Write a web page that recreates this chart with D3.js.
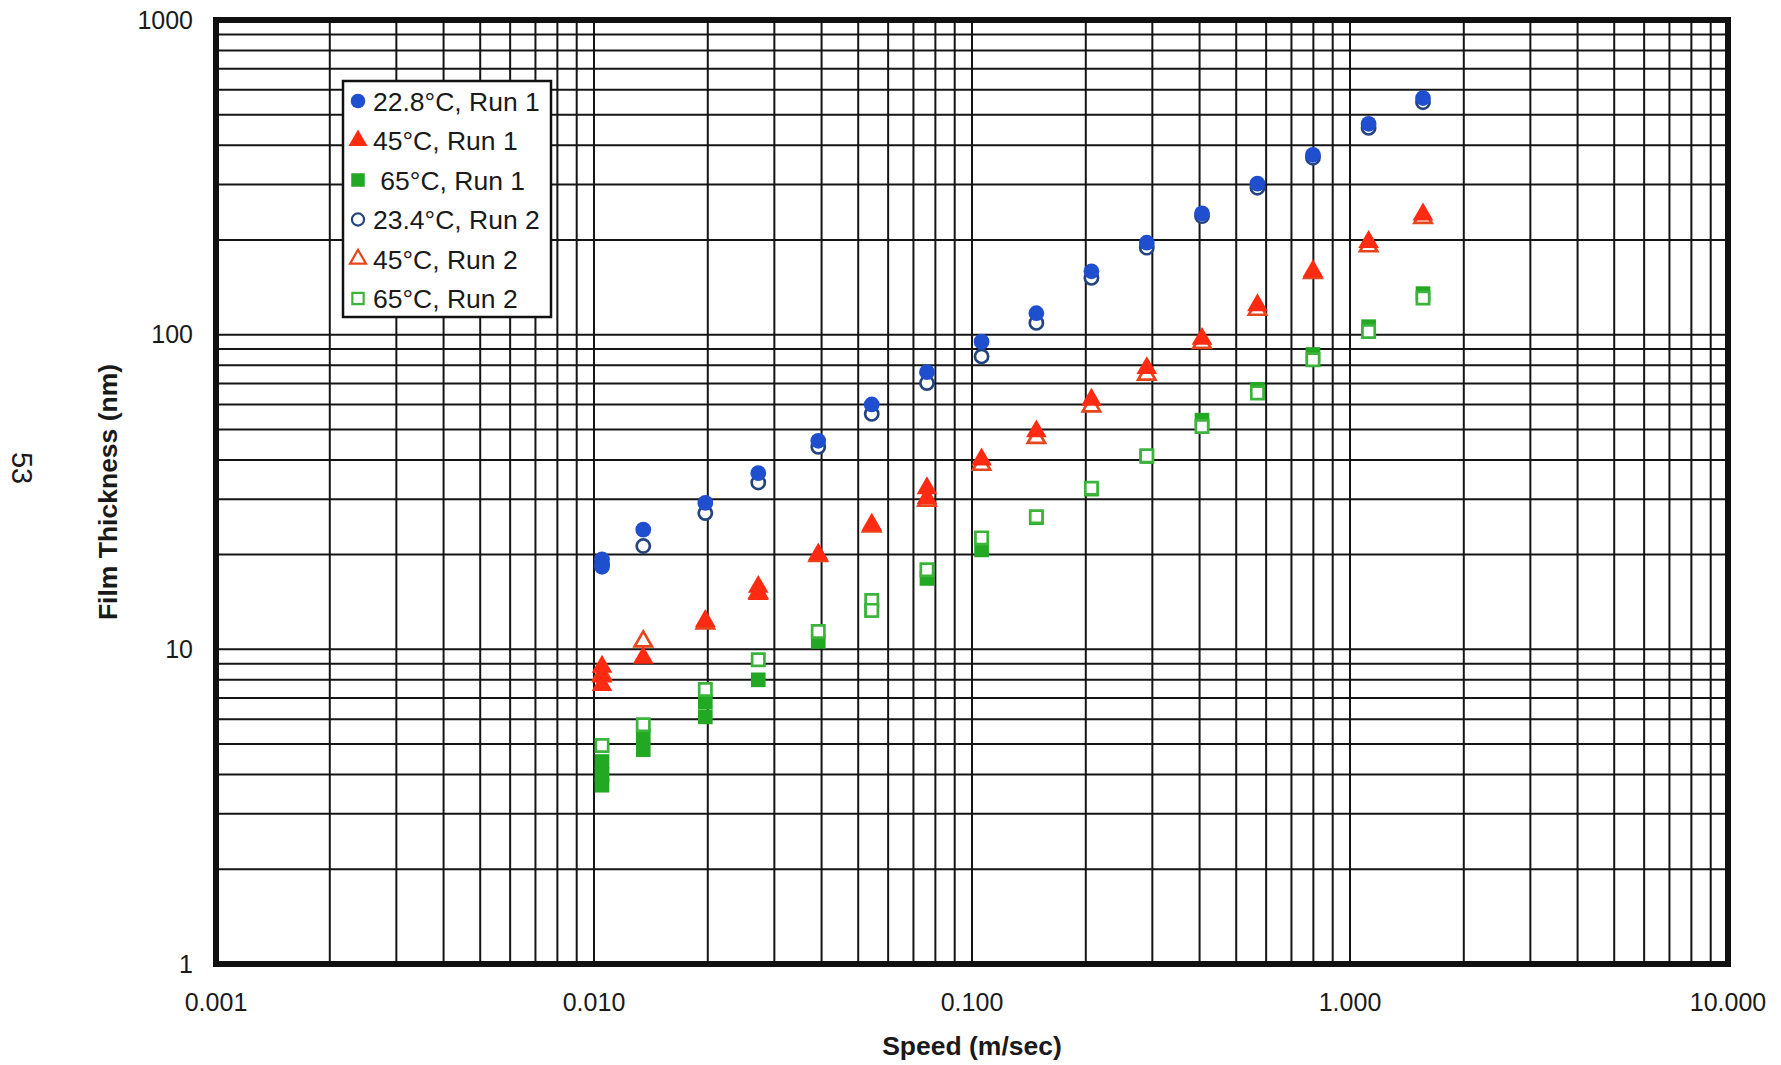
<!DOCTYPE html>
<html>
<head>
<meta charset="utf-8">
<script src="https://cdn.jsdelivr.net/npm/d3@7"></script>
<style>
  body { margin: 0; background: #fff; }
  svg text { font-family: "Liberation Sans", Arial, sans-serif; fill: #1a1a1a; }
</style>
</head>
<body>
<svg id="chart" width="1781" height="1065"></svg>
<script>
// speeds (m/sec), one column of markers each
const speeds = [0.0105, 0.0135, 0.0197, 0.0272, 0.0392, 0.0543, 0.0760, 0.106, 0.148, 0.207, 0.290, 0.406, 0.569, 0.798, 1.12, 1.56]

// film thickness (nm) per speed, repeats kept as extra values
const blue1 = [[19.3, 18.3], [24.0], [29.2], [36.3], [46], [60], [76], [95], [117], [159], [196], [243], [302], [373], [468], [565]]
const blue2 = [[18.6], [21.3], [27.1], [33.9], [44], [56], [70.2], [85.3], [109], [151.5], [189], [238], [293], [365], [454], [548]]
const red1 = [[8.8, 8.2, 7.7], [9.4], [12.3], [15.8, 15.0], [20.0], [24.9], [32.5, 30.2], [40.1], [49.3], [62.1], [78.3], [97], [124], [159], [197], [241]]
const red2 = [[8.3], [10.6], [12.1], [15.1], [19.8], [24.6], [29.7], [38.6], [47.0], [59.2], [74.6], [94.2], [120], [157], [191], [235]]
const green1 = [[4.4, 4.0, 3.7], [5.3, 4.8], [6.8, 6.1], [8.0], [10.6], [13.3], [16.8], [20.7], [26.2], [32.3], [41.0], [53.5], [67], [86.5], [106], [135]]
const green2 = [[4.95], [5.76], [7.45], [9.27], [11.4], [14.3, 13.3], [17.9], [22.6], [26.4], [32.5], [41.2], [51.1], [65.3], [83.2], [102.4], [130.8]]

const xTicks = [0.001, 0.01, 0.1, 1, 10]
const yTicks = [1, 10, 100, 1000]

const series = [
  {name: "22.8°C, Run 1", values: blue1, shape: "circle", fill: "#1f4fcf", stroke: "none"},
  {name: "45°C, Run 1", values: red1, shape: "triangle", fill: "#ff2a12", stroke: "none"},
  {name: " 65°C, Run 1", values: green1, shape: "square", fill: "#22a822", stroke: "none"},
  {name: "23.4°C, Run 2", values: blue2, shape: "circle", fill: "#fff", stroke: "#23457f"},
  {name: "45°C, Run 2", values: red2, shape: "triangle", fill: "#fff", stroke: "#e6461e"},
  {name: "65°C, Run 2", values: green2, shape: "square", fill: "#fff", stroke: "#3cb43c"}
]
// order the markers were painted in
const drawOrder = [3, 4, 0, 1, 2, 5]

const margin = {top: 20, right: 53, bottom: 101, left: 216}
const width = 1781, height = 1065

const svg = d3.select("#chart")

const x = d3.scaleLog().domain([0.001, 10]).range([margin.left, width - margin.right])
const y = d3.scaleLog().domain([1, 1000]).range([height - margin.bottom, margin.top])

// grid
const grid = svg.append("g").attr("stroke", "#151515").attr("stroke-width", 2)
grid.selectAll("line.v")
  .data(x.ticks())
  .join("line")
  .attr("x1", d => x(d)).attr("x2", d => x(d))
  .attr("y1", y(1000)).attr("y2", y(1))
grid.selectAll("line.h")
  .data(y.ticks())
  .join("line")
  .attr("x1", x(0.001)).attr("x2", x(10))
  .attr("y1", d => y(d)).attr("y2", d => y(d))

// frame
svg.append("rect")
  .attr("x", x(0.001)).attr("y", y(1000))
  .attr("width", x(10) - x(0.001))
  .attr("height", y(1) - y(1000))
  .attr("fill", "none")
  .attr("stroke", "#111")
  .attr("stroke-width", 6)

// tick labels
svg.append("g")
  .selectAll("text")
  .data(xTicks)
  .join("text")
  .attr("x", d => x(d))
  .attr("y", 1011)
  .attr("text-anchor", "middle")
  .attr("font-size", 25)
  .text(d3.format(".3f"))

svg.append("g")
  .selectAll("text")
  .data(yTicks)
  .join("text")
  .attr("x", 193)
  .attr("y", d => y(d))
  .attr("dy", "0.35em")
  .attr("text-anchor", "end")
  .attr("font-size", 25)
  .text(d => d)

// axis titles
svg.append("text")
  .attr("x", (x(0.001) + x(10)) / 2)
  .attr("y", 1055)
  .attr("text-anchor", "middle")
  .attr("font-size", 26.5)
  .attr("font-weight", "bold")
  .text("Speed (m/sec)")

svg.append("text")
  .attr("transform", `translate(117,${(y(1) + y(1000)) / 2}) rotate(-90)`)
  .attr("text-anchor", "middle")
  .attr("font-size", 26.5)
  .attr("font-weight", "bold")
  .text("Film Thickness (nm)")

// page number
svg.append("text")
  .attr("transform", "translate(12,468) rotate(90)")
  .attr("text-anchor", "middle")
  .attr("font-size", 29)
  .text("53")

const shapes = {circle: d3.symbolCircle, triangle: d3.symbolTriangle, square: d3.symbolSquare}
const sizes = {circle: 195, triangle: 185, square: 215}

function symbolPath(s, scale) {
  let size = sizes[s.shape] * scale
  if (s.stroke != "none") size *= 0.7
  return d3.symbol(shapes[s.shape], size)()
}

// markers
const points = svg.append("g")
drawOrder.forEach(i => {
  const s = series[i]
  const data = []
  s.values.forEach((vals, j) => vals.forEach(v => data.push([speeds[j], v])))
  points.append("g")
    .selectAll("path")
    .data(data)
    .join("path")
    .attr("transform", d => `translate(${x(d[0])},${y(d[1])})`)
    .attr("d", symbolPath(s, 1))
    .attr("fill", s.fill)
    .attr("stroke", s.stroke)
    .attr("stroke-width", 2.7)
})

// legend
const legend = svg.append("g").attr("transform", "translate(343,81)")
legend.append("rect")
  .attr("width", 208).attr("height", 236)
  .attr("fill", "#fff")
  .attr("stroke", "#111")
  .attr("stroke-width", 2.5)

const row = legend.selectAll("g")
  .data(series)
  .join("g")
  .attr("transform", (d, i) => `translate(0,${20 + i * 39.5})`)

row.append("path")
  .attr("transform", "translate(15,0)")
  .attr("d", d => symbolPath(d, 0.85))
  .attr("fill", d => d.fill)
  .attr("stroke", d => d.stroke)
  .attr("stroke-width", 2.2)

row.append("text")
  .attr("x", 30)
  .attr("dy", "0.36em")
  .attr("font-size", 26.5)
  .style("white-space", "pre")
  .text(d => d.name)
</script>
</body>
</html>
